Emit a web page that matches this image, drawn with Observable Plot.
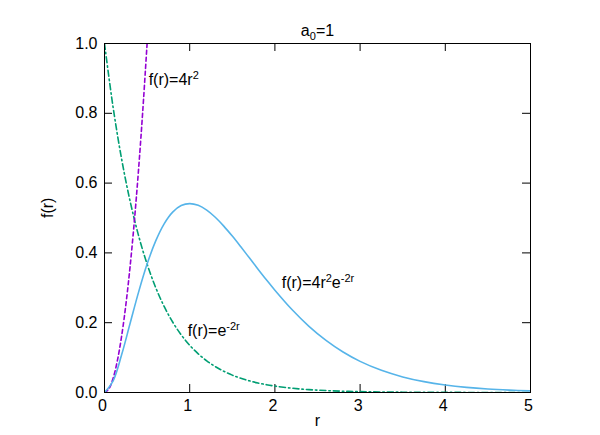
<!DOCTYPE html>
<html>
<head>
<meta charset="utf-8">
<script src="https://cdn.jsdelivr.net/npm/d3@7"></script>
<script src="https://cdn.jsdelivr.net/npm/@observablehq/plot@0.6"></script>
<style>
  html, body { margin: 0; padding: 0; background: #fff; }
</style>
</head>
<body>
<div id="chart"></div>
<script>
const rValues = [0,0.1,0.2,0.3,0.4,0.5,0.6,0.7,0.8,0.9,1.0,1.1,1.2,1.3,1.4,1.5,1.6,1.7,1.8,1.9,2.0,2.2,2.4,2.6,2.8,3.0,3.25,3.5,3.75,4.0,4.25,4.5,4.75,5.0];
const radialValues = [0,0.0328,0.1073,0.1976,0.2876,0.3679,0.4337,0.4833,0.5169,0.5356,0.5413,0.5363,0.5226,0.5021,0.4768,0.4481,0.4174,0.3858,0.3541,0.3230,0.2931,0.2377,0.1896,0.1493,0.1160,0.0892,0.0635,0.0447,0.0311,0.0215,0.0147,0.0100,0.0068,0.0045];
const expValues = [1,0.8187,0.6703,0.5488,0.4493,0.3679,0.3012,0.2466,0.2019,0.1653,0.1353,0.1108,0.0907,0.0743,0.0608,0.0498,0.0408,0.0334,0.0273,0.0224,0.0183,0.0123,0.0082,0.0055,0.0037,0.0025,0.0015,0.0009,0.00055,0.00034,0.0002,0.00012,0.000075,0.000045];
const rQuad = [0,0.05,0.1,0.15,0.2,0.25,0.3,0.35,0.4,0.45,0.5];
const quadValues = [0,0.01,0.04,0.09,0.16,0.25,0.36,0.49,0.64,0.81,1.0];

const xTicks = [0,1,2,3,4,5];
const yTicks = [0,0.2,0.4,0.6,0.8,1.0];
const xInner = [1,2,3,4];
const yInner = [0.2,0.4,0.6,0.8];

const titleText = "a_{0}=1";
const xLabel = "r";
const yLabel = "f(r)";
const curveLabels = ["f(r)=4r^{2}", "f(r)=4r^{2}e^{-2r}", "f(r)=e^{-2r}"];
const labelR = [0.518, 2.08, 0.976];
const labelF = [0.8825, 0.298, 0.163];

const colors = {quad: "#9400d3", exp: "#009e73", radial: "#56b4e9"};

const radial = rValues.map((r, i) => ({r, f: radialValues[i]}));
const expo = rValues.map((r, i) => ({r, f: expValues[i]}));
const quad = rQuad.map((r, i) => ({r, f: quadValues[i]}));
const labels = curveLabels.map((t, i) => ({t, r: labelR[i], f: labelF[i]}));

const W = 600, H = 435;
const mL = 104, mR = 70, mT = 43, mB = 43;
const plotW = W - mL - mR, plotH = H - mT - mB;
const tick = 8;

const chart = Plot.plot({
  width: W,
  height: H,
  marginLeft: mL,
  marginRight: mR,
  marginTop: mT,
  marginBottom: mB,
  style: {fontFamily: "'Liberation Sans', Arial, sans-serif", fontSize: "16px", background: "#fff", color: "#000"},
  x: {domain: [0, 5]},
  y: {domain: [0, 1]},
  marks: [
    Plot.axisX({ticks: xTicks, tickSize: 0, tickPadding: 7, dx: -2, tickFormat: d3.format("d"), label: null, fontSize: 16}),
    Plot.axisY({ticks: yTicks, tickSize: 0, tickPadding: 7, tickFormat: d3.format(".1f"), label: null, fontSize: 16}),
    Plot.tickX(xInner, {x: d => d, insetTop: plotH - tick, stroke: "#000"}),
    Plot.tickX(xInner, {x: d => d, insetBottom: plotH - tick, stroke: "#000"}),
    Plot.tickY(yInner, {y: d => d, insetRight: plotW - tick, stroke: "#000"}),
    Plot.tickY(yInner, {y: d => d, insetLeft: plotW - tick, stroke: "#000"}),
    Plot.line(expo, {x: "r", y: "f", stroke: colors.exp, strokeWidth: 1.6, strokeDasharray: "6,3,1.5,3", curve: "catmull-rom", clip: true}),
    Plot.line(quad, {x: "r", y: "f", stroke: colors.quad, strokeWidth: 1.6, strokeDasharray: "4,3", curve: "catmull-rom", clip: true}),
    Plot.line(radial, {x: "r", y: "f", stroke: colors.radial, strokeWidth: 1.6, curve: "catmull-rom", clip: true}),
    Plot.frame({stroke: "#000", strokeWidth: 1}),
    Plot.text(labels, {x: "r", y: "f", text: "t", textAnchor: "start", lineAnchor: "bottom", fontSize: 16, fill: "#000"}),
    Plot.text([titleText], {frameAnchor: "top", dy: -8, lineAnchor: "bottom", fontSize: 16, fill: "#000"}),
    Plot.text([xLabel], {frameAnchor: "bottom", dy: 33, lineAnchor: "bottom", fontSize: 16, fill: "#000"}),
    Plot.text([yLabel], {frameAnchor: "left", dx: -52, rotate: -90, lineAnchor: "bottom", fontSize: 16, fill: "#000"})
  ]
});

// Render ^{...} as superscripts and _{...} as subscripts using tspans
function richify(textEl) {
  const src = textEl.textContent;
  if (!/[\^_]\{/.test(src)) return;
  const parts = [];
  const re = /([\^_])\{([^}]*)\}/g;
  let last = 0, m;
  while ((m = re.exec(src))) {
    if (m.index > last) parts.push({t: src.slice(last, m.index), k: "n"});
    parts.push({t: m[2], k: m[1] === "^" ? "sup" : "sub"});
    last = re.lastIndex;
  }
  if (last < src.length) parts.push({t: src.slice(last), k: "n"});
  while (textEl.firstChild) textEl.removeChild(textEl.firstChild);
  const ns = "http://www.w3.org/2000/svg";
  let shift = 0;
  for (const p of parts) {
    const ts = document.createElementNS(ns, "tspan");
    let target = p.k === "sup" ? -6 : p.k === "sub" ? 4 : 0;
    ts.setAttribute("dy", String(target - shift));
    shift = target;
    if (p.k !== "n") ts.setAttribute("font-size", "11");
    ts.textContent = p.t;
    textEl.appendChild(ts);
  }
}
d3.select(chart).selectAll("text").each(function() { richify(this); });

document.getElementById("chart").appendChild(chart);
</script>
</body>
</html>
